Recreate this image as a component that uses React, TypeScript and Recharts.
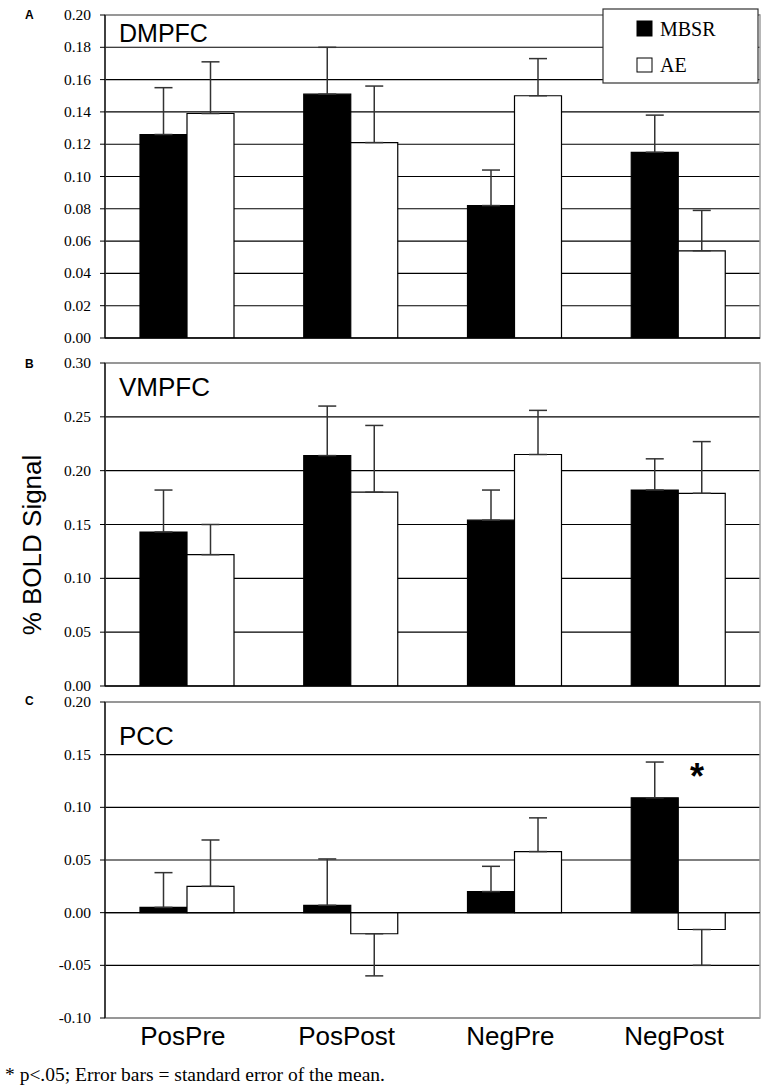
import React from 'react';
import {
  BarChart, Bar, XAxis, YAxis, CartesianGrid, ErrorBar, ReferenceArea, ReferenceLine, ReferenceDot,
} from 'recharts';

const categories = ['PosPre', 'PosPost', 'NegPre', 'NegPost'];
const seriesNames = ['MBSR', 'AE'];

// panel A - DMPFC
const dmpfcMbsr = [0.126, 0.151, 0.082, 0.115];
const dmpfcMbsrSe = [0.029, 0.029, 0.022, 0.023];
const dmpfcAe = [0.139, 0.121, 0.150, 0.054];
const dmpfcAeSe = [0.032, 0.035, 0.023, 0.025];
const dmpfcTicks = [0, 0.02, 0.04, 0.06, 0.08, 0.1, 0.12, 0.14, 0.16, 0.18, 0.2];

// panel B - VMPFC
const vmpfcMbsr = [0.143, 0.214, 0.154, 0.182];
const vmpfcMbsrSe = [0.039, 0.046, 0.028, 0.029];
const vmpfcAe = [0.122, 0.180, 0.215, 0.179];
const vmpfcAeSe = [0.028, 0.062, 0.041, 0.048];
const vmpfcTicks = [0, 0.05, 0.1, 0.15, 0.2, 0.25, 0.3];

// panel C - PCC
const pccMbsr = [0.005, 0.007, 0.020, 0.109];
const pccMbsrSe = [0.033, 0.044, 0.024, 0.034];
const pccAe = [0.025, -0.020, 0.058, -0.016];
const pccAeSe = [0.044, 0.040, 0.032, 0.034];
const pccTicks = [-0.1, -0.05, 0, 0.05, 0.1, 0.15, 0.2];

const SERIF = "'Liberation Serif', 'Times New Roman', serif";
const SANS = "'Liberation Sans', Arial, sans-serif";

// error bars only go away from zero
const oneSided = (v: number, se: number) => (v >= 0 ? [0, se] : [se, 0]);

const buildRows = (m: number[], mSe: number[], a: number[], aSe: number[]) =>
  categories.map((name, i) => ({
    name,
    mbsr: m[i],
    ae: a[i],
    mbsrErr: oneSided(m[i], mSe[i]),
    aeErr: oneSided(a[i], aSe[i]),
  }));

const dmpfcData = buildRows(dmpfcMbsr, dmpfcMbsrSe, dmpfcAe, dmpfcAeSe);
const vmpfcData = buildRows(vmpfcMbsr, vmpfcMbsrSe, vmpfcAe, vmpfcAeSe);
const pccData = buildRows(pccMbsr, pccMbsrSe, pccAe, pccAeSe);

const Star = (p: any) => (
  <text x={p.cx + 19} y={p.cy + 19} textAnchor="middle" fontFamily={SANS} fontWeight="bold" fontSize={36} fill="#000">
    *
  </text>
);

const YTick = (p: any) => (
  <text x={p.x} y={p.y} dy={5} textAnchor="end" fontFamily={SERIF} fontSize={15.5} fill="#000">
    {Number(p.payload.value).toFixed(2)}
  </text>
);

const XTick = (p: any) => (
  <text x={p.x - 4} y={p.y} dy={18} textAnchor="middle" fontFamily={SANS} fontSize={26} fill="#000">
    {p.payload.value}
  </text>
);

interface PanelProps {
  data: any[];
  ticks: number[];
  top: number;
  height: number;
  margin: { top: number; right: number; bottom: number; left: number };
  showX?: boolean;
  star?: { x: string; y: number };
}

function Panel({ data, ticks, top, height, margin, showX, star }: PanelProps) {
  const lo = ticks[0];
  const hi = ticks[ticks.length - 1];
  return (
    <div style={{ position: 'absolute', left: 0, top }}>
      <BarChart width={767} height={height} data={data} margin={margin} barGap={0} barSize={47}>
        <CartesianGrid vertical={false} stroke="#000" strokeWidth={1.1} />
        <ReferenceArea y1={lo} y2={hi} fill="none" stroke="#a0a0a0" strokeWidth={1.5} ifOverflow="extendDomain" />
        <XAxis
          dataKey="name"
          hide={!showX}
          height={32}
          axisLine={false}
          tickLine={false}
          tickSize={0}
          tickMargin={9}
          interval={0}
          tick={<XTick />}
        />
        <YAxis
          width={105}
          domain={[lo, hi]}
          ticks={ticks}
          interval={0}
          allowDataOverflow
          tick={<YTick />}
          tickSize={5}
          tickMargin={9}
          stroke="#000"
          axisLine={{ stroke: '#000', strokeWidth: 1.3 }}
          tickLine={{ stroke: '#000' }}
        />
        <Bar dataKey="mbsr" fill="#000" stroke="#000" strokeWidth={1.2} isAnimationActive={false}>
          <ErrorBar dataKey="mbsrErr" width={9} stroke="#333" strokeWidth={1.5} direction="y" isAnimationActive={false} />
        </Bar>
        <Bar dataKey="ae" fill="#fff" stroke="#000" strokeWidth={1.2} isAnimationActive={false}>
          <ErrorBar dataKey="aeErr" width={9} stroke="#333" strokeWidth={1.5} direction="y" isAnimationActive={false} />
        </Bar>
        <ReferenceLine y={0} stroke="#000" strokeWidth={1.3} />
        {star && <ReferenceDot x={star.x} y={star.y} r={1} shape={Star} />}
      </BarChart>
    </div>
  );
}

export default function App() {
  return (
    <div style={{ position: 'absolute', left: 0, top: 0, width: 767, height: 1086, background: '#fff' }}>
      <Panel data={dmpfcData} ticks={dmpfcTicks} top={0} height={350} margin={{ top: 15, right: 7, bottom: 12, left: 0 }} />
      <Panel data={vmpfcData} ticks={vmpfcTicks} top={345} height={355} margin={{ top: 18, right: 7, bottom: 14, left: 0 }} />
      <Panel
        data={pccData}
        ticks={pccTicks}
        top={690}
        height={396}
        margin={{ top: 12, right: 7, bottom: 36, left: 0 }}
        showX
        star={{ x: 'NegPost', y: 0.135 }}
      />
      <svg width={767} height={1086} style={{ position: 'absolute', left: 0, top: 0, pointerEvents: 'none' }}>
        <text x={25} y={19} fontFamily={SANS} fontWeight="bold" fontSize={12}>A</text>
        <text x={25} y={368} fontFamily={SANS} fontWeight="bold" fontSize={12}>B</text>
        <text x={25} y={705} fontFamily={SANS} fontWeight="bold" fontSize={12}>C</text>
        <text x={119} y={42} fontFamily={SANS} fontSize={25}>DMPFC</text>
        <text x={119} y={396} fontFamily={SANS} fontSize={26}>VMPFC</text>
        <text x={119} y={745} fontFamily={SANS} fontSize={26}>PCC</text>
        <text x={41} y={545} fontFamily={SANS} fontSize={26} textAnchor="middle" transform="rotate(-90 41 545)">
          % BOLD Signal
        </text>
        <rect x={603} y={9} width={155} height={74} fill="#fff" stroke="#333" strokeWidth={1.2} />
        <rect x={637} y={21} width={15} height={15} fill="#000" stroke="#000" />
        <text x={660} y={36} fontFamily={SERIF} fontSize={20}>{seriesNames[0]}</text>
        <rect x={637} y={58} width={15} height={14} fill="#fff" stroke="#000" />
        <text x={660} y={72} fontFamily={SERIF} fontSize={20}>{seriesNames[1]}</text>
        <text x={5} y={1081} fontFamily={SERIF} fontSize={19.5}>* p&lt;.05; Error bars = standard error of the mean.</text>
      </svg>
    </div>
  );
}
